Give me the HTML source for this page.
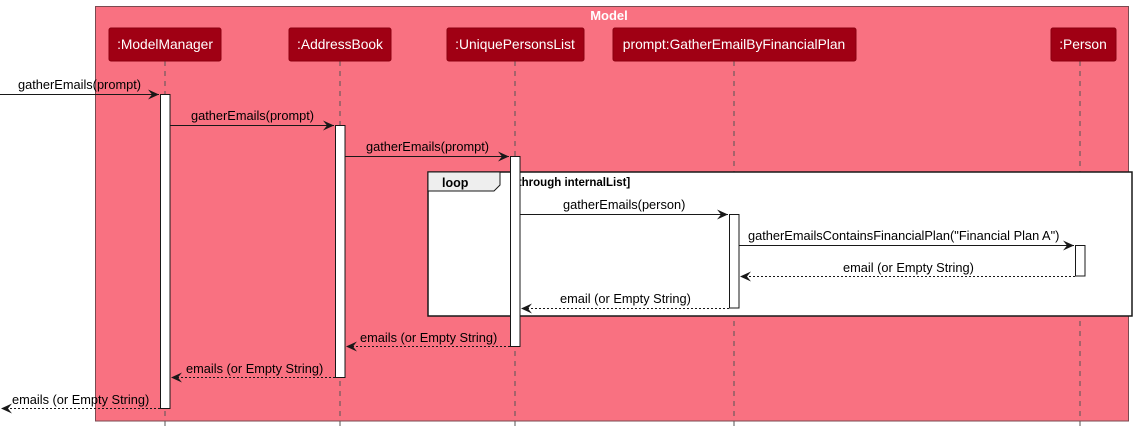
<!DOCTYPE html>
<html><head><meta charset="utf-8"><style>
html,body{margin:0;padding:0;background:#fff;}
svg{display:block;}
text{font-family:"Liberation Sans",sans-serif;font-size:12.8px;fill:#000;}
.p{fill:#fff;font-size:13.8px;}
</style></head><body>
<svg width="1137" height="433" viewBox="0 0 1137 433" xmlns="http://www.w3.org/2000/svg">
<defs>
<marker id="a" markerWidth="12" markerHeight="10" refX="11" refY="5" orient="auto" markerUnits="userSpaceOnUse">
<path d="M0,0 L11,5 L0,10 L4,5 Z" fill="#181818"/></marker>
<marker id="b" markerWidth="12" markerHeight="10" refX="11" refY="5" orient="auto" markerUnits="userSpaceOnUse">
<path d="M0,0 L11,5 L0,10 L4,5 Z" fill="#181818"/></marker>
</defs>
<rect x="95.5" y="6.5" width="1033" height="414.5" fill="#F97181" stroke="#7a4a50" stroke-width="1"/>
<text x="609" y="20" text-anchor="middle" style="fill:#fff;font-weight:bold;font-size:13px">Model</text>
<g stroke="#555" stroke-width="1" stroke-dasharray="5,5">
<line x1="165" y1="61" x2="165" y2="428"/>
<line x1="340" y1="61" x2="340" y2="428"/>
<line x1="515" y1="61" x2="515" y2="428"/>
<line x1="734" y1="61" x2="734" y2="428"/>
<line x1="1080" y1="61" x2="1080" y2="428"/>
</g>
<g fill="#A00014" stroke="#8a0010">
<rect x="109" y="28" width="112" height="33" rx="2"/>
<rect x="289" y="28" width="102" height="33" rx="2"/>
<rect x="447" y="28" width="137" height="33" rx="2"/>
<rect x="613" y="28" width="243" height="33" rx="2"/>
<rect x="1051" y="28" width="65" height="33" rx="2"/>
</g>
<text class="p" x="165" y="49" text-anchor="middle">:ModelManager</text>
<text class="p" x="340" y="49" text-anchor="middle">:AddressBook</text>
<text class="p" x="515" y="49" text-anchor="middle">:UniquePersonsList</text>
<text class="p" x="734" y="49" text-anchor="middle">prompt:GatherEmailByFinancialPlan</text>
<text class="p" x="1083" y="49" text-anchor="middle">:Person</text>
<rect x="428" y="172" width="704" height="144" fill="#fff" stroke="#181818" stroke-width="1.5"/>
<path d="M428,172 H500 V185 L494,191 H428 Z" fill="#eee" stroke="#181818" stroke-width="1"/>
<text x="442" y="187" style="font-weight:bold;font-size:12.5px">loop</text>
<text x="514" y="186" style="font-weight:bold;font-size:11.5px">[through internalList]</text>
<g fill="#fff" stroke="#181818" stroke-width="1">
<rect x="160.5" y="94.5" width="9.5" height="314"/>
<rect x="335.5" y="125.5" width="9.5" height="252"/>
<rect x="510.5" y="156.5" width="9.5" height="190"/>
<rect x="729.5" y="214.5" width="9.5" height="93.5"/>
<rect x="1075.5" y="245.5" width="9.5" height="30.5"/>
</g>
<g stroke="#181818" stroke-width="1" fill="none">
<line x1="0" y1="94.5" x2="159" y2="94.5" marker-end="url(#a)"/>
<line x1="170" y1="125.5" x2="334" y2="125.5" marker-end="url(#a)"/>
<line x1="345" y1="156.5" x2="509" y2="156.5" marker-end="url(#a)"/>
<line x1="520" y1="214.5" x2="728" y2="214.5" marker-end="url(#a)"/>
<line x1="739" y1="245.5" x2="1074" y2="245.5" marker-end="url(#a)"/>
<g stroke-dasharray="2,2">
<line x1="1075" y1="276.5" x2="740" y2="276.5" marker-end="url(#b)"/>
<line x1="729" y1="308.5" x2="521" y2="308.5" marker-end="url(#b)"/>
<line x1="510" y1="346.5" x2="346" y2="346.5" marker-end="url(#b)"/>
<line x1="335" y1="377.5" x2="171" y2="377.5" marker-end="url(#b)"/>
<line x1="160" y1="408.5" x2="1" y2="408.5" marker-end="url(#b)"/>
</g>
</g>
<text x="18" y="89">gatherEmails(prompt)</text>
<text x="191" y="120">gatherEmails(prompt)</text>
<text x="366" y="151">gatherEmails(prompt)</text>
<text x="563" y="209">gatherEmails(person)</text>
<text x="748" y="240">gatherEmailsContainsFinancialPlan("Financial Plan A")</text>
<text x="843" y="272">email (or Empty String)</text>
<text x="560" y="303">email (or Empty String)</text>
<text x="360" y="342">emails (or Empty String)</text>
<text x="186" y="373">emails (or Empty String)</text>
<text x="12" y="404">emails (or Empty String)</text>
</svg>
</body></html>
